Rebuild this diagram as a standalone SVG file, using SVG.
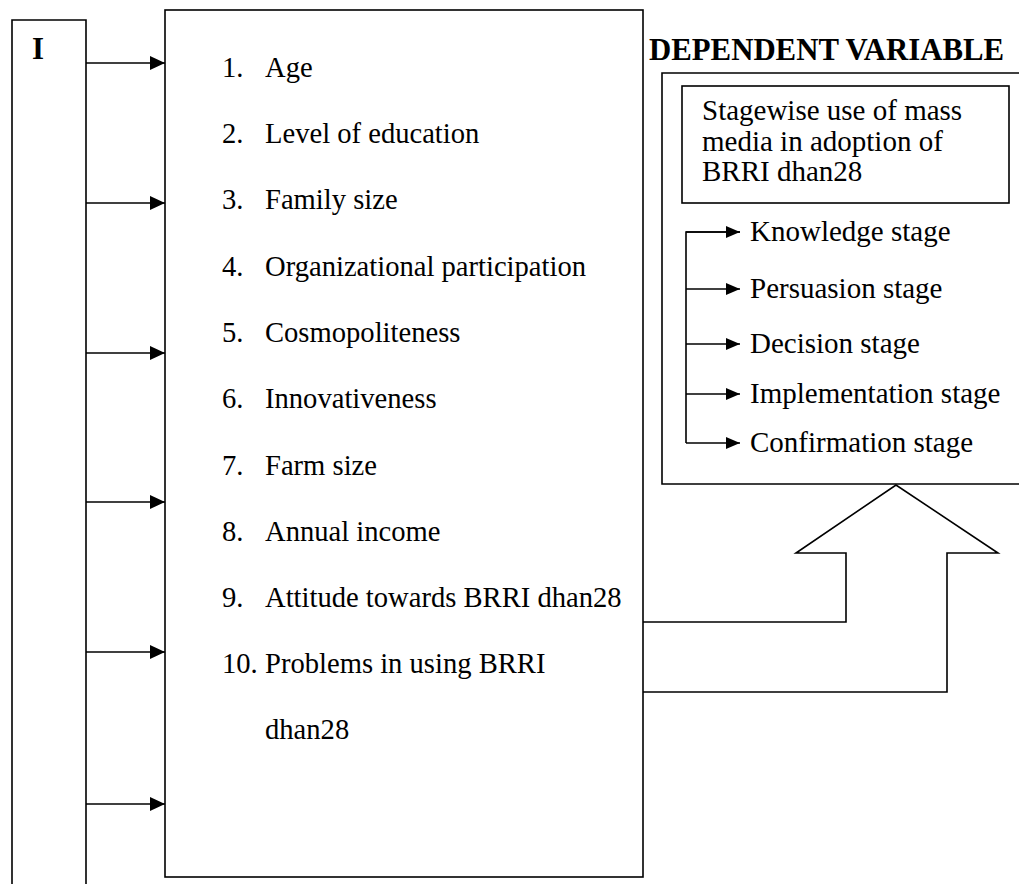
<svg xmlns="http://www.w3.org/2000/svg" width="1019" height="884" viewBox="0 0 1019 884">
<style>
.box{fill:none;stroke:#000;stroke-width:1.6}
.ln{fill:none;stroke:#000;stroke-width:1.6}
.t{font-family:"Liberation Serif","Times New Roman",serif;font-size:28.6px;fill:#000}
.b{font-family:"Liberation Serif","Times New Roman",serif;font-size:30.8px;font-weight:bold;fill:#000}
.s{font-family:"Liberation Serif","Times New Roman",serif;font-size:29px;fill:#000}
</style>
<defs>
<marker id="ah" markerUnits="userSpaceOnUse" markerWidth="15" markerHeight="14" refX="15" refY="7" orient="auto">
<path d="M0,0 L15,7 L0,14 Z" fill="#000"/>
</marker>
<marker id="ah2" markerUnits="userSpaceOnUse" markerWidth="14" markerHeight="12" refX="14" refY="6" orient="auto">
<path d="M0,0 L14,6 L0,12 Z" fill="#000"/>
</marker>
</defs>
<rect width="1019" height="884" fill="#fff"/>
<g id="independent">
<path class="box" d="M12,890 V20 H86 V890"/>
<text class="b" x="32" y="59">I</text>
</g>
<g id="variables">
<rect class="box" x="165" y="10" width="478" height="867"/>
<g class="t">
<text x="222" y="77">1.</text><text x="265" y="77">Age</text>
<text x="222" y="143">2.</text><text x="265" y="143">Level of education</text>
<text x="222" y="209">3.</text><text x="265" y="209">Family size</text>
<text x="222" y="276">4.</text><text x="265" y="276">Organizational participation</text>
<text x="222" y="342">5.</text><text x="265" y="342">Cosmopoliteness</text>
<text x="222" y="408">6.</text><text x="265" y="408">Innovativeness</text>
<text x="222" y="475">7.</text><text x="265" y="475">Farm size</text>
<text x="222" y="541">8.</text><text x="265" y="541">Annual income</text>
<text x="222" y="607">9.</text><text x="265" y="607">Attitude towards BRRI dhan28</text>
<text x="222" y="673">10.</text><text x="265" y="673">Problems in using BRRI</text>
<text x="265" y="739">dhan28</text>
</g>
</g>
<g id="dependent-title">
<text class="b" x="649" y="60">DEPENDENT VARIABLE</text>
</g>
<g id="dependent">
<path class="box" d="M1025,73 H662 V484 H1025"/>
<rect class="box" x="682" y="86" width="327" height="117"/>
<text class="s" x="702" y="120">Stagewise use of mass</text>
<text class="s" x="702" y="151">media in adoption of</text>
<text class="s" x="702" y="181">BRRI dhan28</text>
</g>
<g id="stages" class="s">
<text x="750" y="241">Knowledge stage</text>
<text x="750" y="298">Persuasion stage</text>
<text x="750" y="353">Decision stage</text>
<text x="750" y="403">Implementation stage</text>
<text x="750" y="452">Confirmation stage</text>
</g>
<g id="connectors">
<line class="ln" x1="86" y1="63" x2="165" y2="63" marker-end="url(#ah)"/>
<line class="ln" x1="86" y1="203" x2="165" y2="203" marker-end="url(#ah)"/>
<line class="ln" x1="86" y1="353" x2="165" y2="353" marker-end="url(#ah)"/>
<line class="ln" x1="86" y1="502" x2="165" y2="502" marker-end="url(#ah)"/>
<line class="ln" x1="86" y1="652" x2="165" y2="652" marker-end="url(#ah)"/>
<line class="ln" x1="86" y1="804" x2="165" y2="804" marker-end="url(#ah)"/>
<path class="ln" d="M740,232 H686 V443"/>
<line class="ln" x1="686" y1="232" x2="740" y2="232" marker-end="url(#ah2)"/>
<line class="ln" x1="686" y1="289" x2="740" y2="289" marker-end="url(#ah2)"/>
<line class="ln" x1="686" y1="344" x2="740" y2="344" marker-end="url(#ah2)"/>
<line class="ln" x1="686" y1="394" x2="740" y2="394" marker-end="url(#ah2)"/>
<line class="ln" x1="686" y1="443" x2="740" y2="443" marker-end="url(#ah2)"/>
<path class="ln" d="M643,622 H846 V553 H796 L896,485 L998,553 H947 V692 H643"/>
</g>
</svg>
